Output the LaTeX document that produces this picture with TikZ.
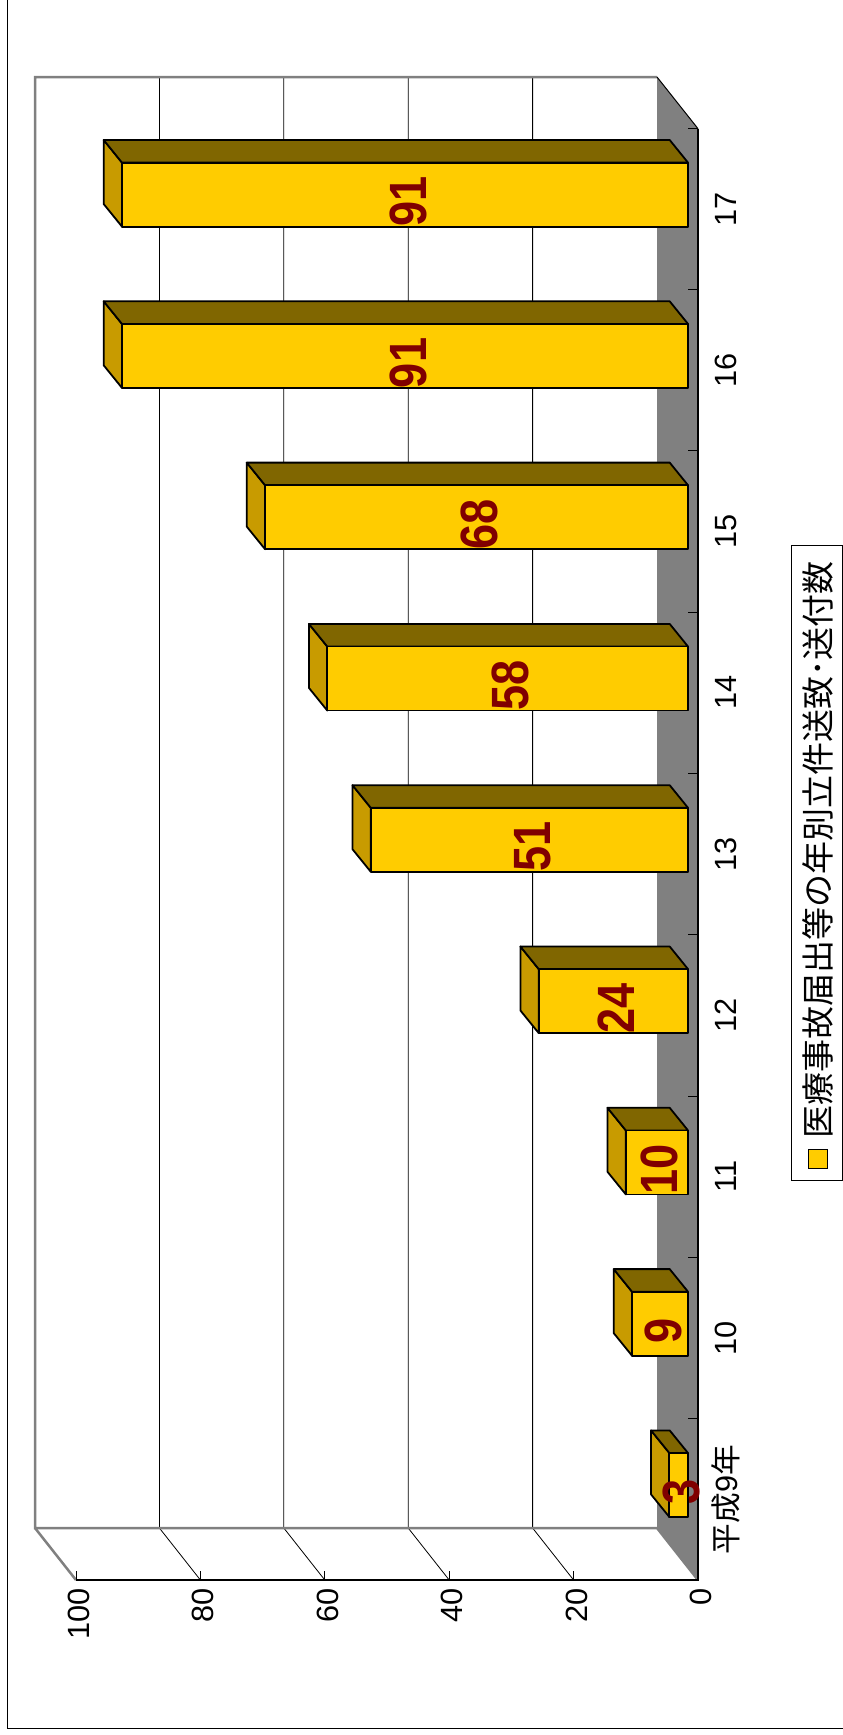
\documentclass[tikz,border=0pt]{standalone}
\usepackage{graphicx}
\usepackage{fontspec}
\setmainfont{Liberation Sans}
\newfontfamily\jpfont{Noto Sans CJK JP}

\definecolor{barfront}{HTML}{FFCC00}
\definecolor{barend}{HTML}{C89B00}
\definecolor{bartop}{HTML}{806600}
\definecolor{floorgrey}{HTML}{808080}
\definecolor{labelred}{HTML}{800000}

\tikzset{
  wall/.style={draw=floorgrey, line width=2.5pt},
  gridline/.style={black, line width=0.8pt},
  barface/.style={draw=black, line width=1.8pt, line join=round},
  axislabel/.style={rotate=90, inner sep=0pt, font=\fontsize{30.7}{31}\selectfont},
  vallabel/.style={rotate=90, inner sep=0pt, text=labelred, font=\fontsize{43}{43}\selectfont\bfseries},
}

\begin{document}
\begin{tikzpicture}[x=1pt,y=-1pt]
\useasboundingbox (0,0) rectangle (843,1735);
\draw [line width=1.5pt] (7.5,-5) -- (7.5,1728.5) -- (850,1728.5);

% floor and walls
\fill [floorgrey] (657,77) -- (698,128.7) -- (698,1580) -- (657,1528) -- cycle;
\foreach \k in {1,...,4}
  \draw [gridline] ({657-124.4*\k},77) -- ({657-124.4*\k},1528) -- ({698-124.4*\k},1580);
\draw [wall] (657,77) -- (35,77) -- (35,1528) -- (657,1528) -- (698,1580);
\draw [wall] (35,1528) -- (76,1580);
\draw [line width=1pt] (657,77) -- (698,128.7);

% axes
\draw [line width=1.8pt] (76,1580) -- (698,1580) -- (698,128.7);
\foreach \k in {0,...,5}
  \draw [line width=1pt] ({698-124.4*\k},1580) -- ++(0,-9.5);
\foreach \k in {1,...,9}
  \draw [line width=1pt] (698,{1580-161.3*\k}) -- ++(-10,0);
\foreach \v [count=\k from 0] in {0,20,40,60,80,100}
  \node (vlab\k) [axislabel, anchor=east] at ({701-6.22*\v},1588) {\v};
\node (cat0) [axislabel] at (726,1499.4) {{\jpfont 平成}9{\jpfont 年}};
\foreach \c [count=\i from 1] in {10,11,12,13,14,15,16,17}
  \node (cat\i) [axislabel] at (726,{1499.4-161.3*\i}) {\c};

% bars
\foreach \v [count=\i from 0] in {3,9,10,24,51,58,68,91,91} {
  \pgfmathsetmacro\c{1485-161.3*\i}
  \pgfmathsetmacro\l{688-6.22*\v}
  \filldraw [barface, fill=barend] (\l,\c-32) -- (\l,\c+32) -- (\l-18.3,\c+9.4) -- (\l-18.3,\c-54.6) -- cycle;
  \filldraw [barface, fill=bartop] (\l,\c-32) -- (688,\c-32) -- (669.7,\c-54.6) -- (\l-18.3,\c-54.6) -- cycle;
  \filldraw [barface, fill=barfront] (\l,\c-32) rectangle (688,\c+32);
  \node (val\i) [vallabel] at ({(\l+688)/2+3},\c+7) {\scalebox{1.05}[1.22]{\v}};
}

% legend
\draw [line width=1pt, fill=white] (791.3,545.7) rectangle (842,1180);
\node (legmark) [draw, line width=1.2pt, fill=barfront, minimum size=19pt, inner sep=0pt] at (817.7,1159) {};
\node (legtext) [rotate=90, anchor=west, inner sep=0pt, font=\jpfont\fontsize{33}{33}\selectfont]
  at (818,1139) {医療事故届出等の年別立件送致･送付数};
\end{tikzpicture}
\end{document}
